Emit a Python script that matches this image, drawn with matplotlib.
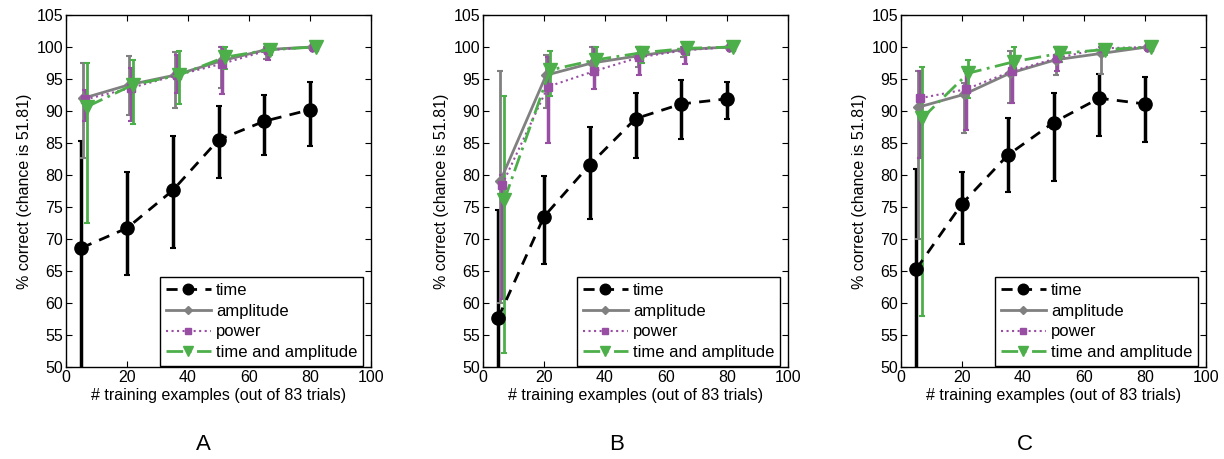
import matplotlib
matplotlib.use("Agg")
import matplotlib.pyplot as plt
from matplotlib.lines import Line2D
import numpy as np

plt.rcParams['font.family'] = ['Liberation Sans', 'DejaVu Sans']
plt.rcParams['font.size'] = 11.5

# x positions (training examples), each series nudged a bit sideways like the original
x_time = [5, 20, 35, 50, 65, 80]
x_amp = [5.7, 20.7, 35.7, 50.7, 65.7, 80.7]
x_pow = [6.3, 21.3, 36.3, 51.3, 66.3, 81.3]
x_ta = [7, 22, 37, 52, 67, 82]

# panel A
a_time = [68.6, 71.7, 77.6, 85.5, 88.4, 90.2]
a_time_lo = [45.0, 64.3, 68.6, 79.5, 83.2, 84.6]
a_time_hi = [85.3, 80.5, 86.1, 90.8, 92.5, 94.5]
a_amp = [92.0, 94.1, 95.6, 97.8, 99.6, 100.0]
a_amp_lo = [82.7, 89.3, 90.5, 93.6, 98.2, 99.6]
a_amp_hi = [97.5, 98.6, 99.2, 100.0, 100.0, 100.0]
a_pow = [91.8, 93.6, 95.6, 97.4, 99.5, 100.0]
a_pow_lo = [88.4, 88.4, 92.8, 92.7, 97.9, 99.3]
a_pow_hi = [93.3, 96.7, 98.7, 100.0, 100.0, 100.0]
a_ta = [90.7, 94.1, 95.6, 98.4, 99.6, 100.0]
a_ta_lo = [72.5, 87.9, 91.1, 96.5, 98.8, 99.6]
a_ta_hi = [97.5, 98.0, 99.3, 100.0, 100.0, 100.0]

# panel B
b_time = [57.7, 73.5, 81.6, 88.8, 91.1, 91.9]
b_time_lo = [45.0, 66.1, 73.1, 82.7, 85.6, 88.8]
b_time_hi = [74.5, 79.8, 87.5, 92.8, 94.9, 94.5]
b_amp = [79.1, 95.6, 97.5, 98.6, 99.6, 100.0]
b_amp_lo = [60.0, 90.5, 95.8, 96.9, 98.5, 99.6]
b_amp_hi = [96.3, 98.7, 100.0, 100.0, 100.0, 100.0]
b_pow = [78.5, 93.8, 96.2, 98.4, 99.5, 100.0]
b_pow_lo = [60.7, 85.0, 93.5, 95.6, 97.3, 99.5]
b_pow_hi = [80.0, 98.5, 100.0, 100.0, 100.0, 100.0]
b_ta = [76.1, 96.4, 98.0, 99.1, 99.8, 100.0]
b_ta_lo = [52.2, 92.3, 95.7, 97.5, 98.8, 99.6]
b_ta_hi = [92.4, 99.3, 100.0, 100.0, 100.0, 100.0]

# panel C
c_time = [65.3, 75.5, 83.1, 88.2, 92.0, 91.1]
c_time_lo = [45.0, 69.2, 77.4, 79.1, 86.1, 85.2]
c_time_hi = [80.9, 80.5, 88.9, 92.8, 95.8, 95.3]
c_amp = [90.6, 92.6, 95.9, 98.0, 99.0, 100.0]
c_amp_lo = [70.0, 86.6, 91.2, 95.6, 95.8, 99.6]
c_amp_hi = [96.3, 94.3, 99.3, 100.0, 100.0, 100.0]
c_pow = [92.0, 93.4, 96.2, 98.3, 99.8, 100.0]
c_pow_lo = [82.6, 87.1, 91.2, 96.3, 98.8, 99.5]
c_pow_hi = [96.3, 96.2, 97.9, 100.0, 100.0, 100.0]
c_ta = [88.9, 95.9, 97.7, 99.0, 99.6, 100.0]
c_ta_lo = [57.9, 92.1, 95.7, 97.6, 98.8, 99.5]
c_ta_hi = [96.8, 98.0, 100.0, 100.0, 100.0, 100.0]

panels = [
    ('A', (a_time, a_time_lo, a_time_hi), (a_amp, a_amp_lo, a_amp_hi),
     (a_pow, a_pow_lo, a_pow_hi), (a_ta, a_ta_lo, a_ta_hi)),
    ('B', (b_time, b_time_lo, b_time_hi), (b_amp, b_amp_lo, b_amp_hi),
     (b_pow, b_pow_lo, b_pow_hi), (b_ta, b_ta_lo, b_ta_hi)),
    ('C', (c_time, c_time_lo, c_time_hi), (c_amp, c_amp_lo, c_amp_hi),
     (c_pow, c_pow_lo, c_pow_hi), (c_ta, c_ta_lo, c_ta_hi)),
]

GRAY = '#808080'
PURPLE = '#984ea3'
GREEN = '#4daf4a'

styles = [
    # label, x, color, linestyle, marker, markersize, lw, elw
    ('time', x_time, 'black', (0, (4, 3)), 'o', 9.5, 2.0, 2.5),
    ('amplitude', x_amp, GRAY, '-', 'D', 5, 2.0, 2.0),
    ('power', x_pow, PURPLE, ':', 's', 6, 1.5, 2.5),
    ('time and amplitude', x_ta, GREEN, (0, (6, 2, 1, 2)), 'v', 9.5, 2.0, 2.0),
]

fig = plt.figure(figsize=(12.24, 4.59), dpi=100)
W, H = 1224, 459
lefts = [66, 483, 901]
label_x = [203, 617, 1025]

for k, (letter, *series) in enumerate(panels):
    ax = fig.add_axes([lefts[k] / W, 1 - 367 / H, 305 / W, 352 / H])
    handles = []
    for (name, xs, col, ls, mk, ms, lw, elw), (m, lo, hi) in zip(styles, series):
        m = np.array(m); lo = np.array(lo); hi = np.array(hi)
        ax.errorbar(xs, m, yerr=[m - lo, hi - m], color=col, ls=ls, lw=lw,
                    marker=mk, ms=ms, mec=col, mfc=col, elinewidth=elw,
                    capsize=2, capthick=1.5)
        handles.append(Line2D([], [], color=col, ls=ls, lw=lw, marker=mk,
                              ms=ms * 0.8, mec=col, mfc=col, label=name))
    ax.set_xlim(0, 100)
    ax.set_ylim(50, 105)
    ax.set_xticks(range(0, 101, 20))
    ax.set_yticks(range(50, 106, 5))
    ax.tick_params(direction='in', top=True, right=True, length=4, pad=2)
    for s in ax.spines.values():
        s.set_linewidth(1.0)
    ax.set_xlabel('# training examples (out of 83 trials)', labelpad=2)
    ax.set_ylabel('% correct (chance is 51.81)', labelpad=3)
    leg = ax.legend(handles=handles, loc='lower right', bbox_to_anchor=(0.974, 0.003),
                    fancybox=False, framealpha=1, edgecolor='black', fontsize=12,
                    handlelength=2.7, borderpad=0.35, labelspacing=0.34,
                    handletextpad=0.3, borderaxespad=0, numpoints=1)
    leg.get_frame().set_linewidth(1.0)
    fig.text(label_x[k] / W, 1 - 445 / H, letter, ha='center', va='center', fontsize=16)

fig.savefig('out.png', dpi=100)
